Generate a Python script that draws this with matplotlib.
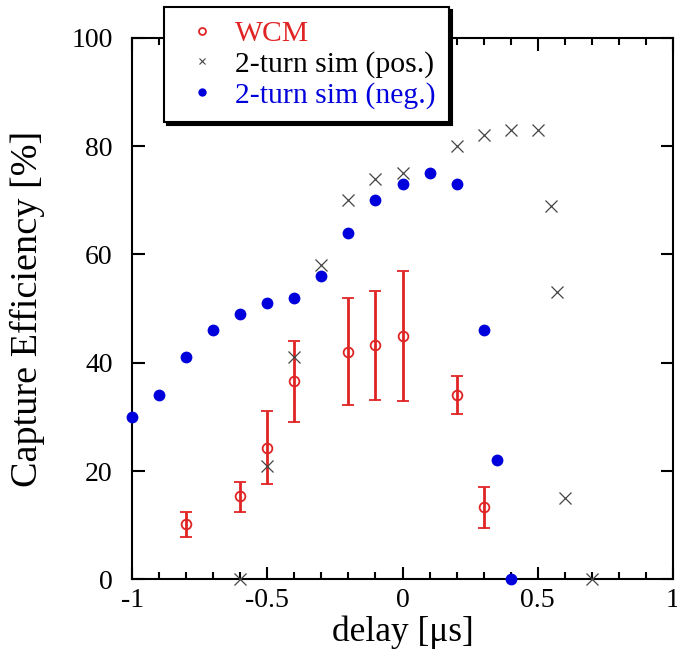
import matplotlib
matplotlib.use("Agg")
import matplotlib.pyplot as plt
from matplotlib.ticker import MultipleLocator

plt.rcParams['font.family'] = ['Liberation Serif', 'DejaVu Serif']

# WCM measurement with asymmetric error bars
wcm_delay = [-0.8, -0.6, -0.5, -0.4, -0.2, -0.1, 0.0, 0.2, 0.3]
wcm_eff = [10.2, 15.3, 24.2, 36.6, 42.0, 43.2, 45.0, 34.0, 13.3]
wcm_lo = [7.8, 12.4, 17.6, 29.0, 32.2, 33.2, 33.0, 30.5, 9.5]
wcm_hi = [12.5, 18.0, 31.0, 44.0, 52.0, 53.2, 57.0, 37.5, 17.0]

# 2-turn simulation, positive polarity
pos_delay = [-0.6, -0.5, -0.4, -0.3, -0.2, -0.1, 0.0, 0.2, 0.3, 0.4, 0.5, 0.55, 0.57, 0.6, 0.7]
pos_eff = [0, 21, 41, 58, 70, 74, 75, 80, 82, 83, 83, 69, 53, 15, 0]

# 2-turn simulation, negative polarity
neg_delay = [-1.0, -0.9, -0.8, -0.7, -0.6, -0.5, -0.4, -0.3, -0.2, -0.1, 0.0, 0.1, 0.2, 0.3, 0.35, 0.4]
neg_eff = [30, 34, 41, 46, 49, 51, 52, 56, 64, 70, 73, 75, 73, 46, 22, 0]

red = '#e02424'
blue = '#0000dc'
gray = '#444444'

fig = plt.figure(figsize=(6.77, 6.59), dpi=100)
ax = fig.add_axes([0.1954, 0.1209, 0.7983, 0.8217])

yerr = [[e - l for e, l in zip(wcm_eff, wcm_lo)], [h - e for e, h in zip(wcm_eff, wcm_hi)]]
ax.errorbar(wcm_delay, wcm_eff, yerr=yerr, fmt='o', mfc='none', mec=red, ecolor=red,
            ms=7, mew=1.3, elinewidth=2, capsize=4, capthick=2, zorder=3, clip_on=False)
ax.plot(pos_delay, pos_eff, 'x', color=gray, ms=8, mew=0.9, zorder=4, clip_on=False)
ax.plot(neg_delay, neg_eff, 'o', color=blue, ms=8.5, mew=0, zorder=5, clip_on=False)

ax.set_xlim(-1, 1)
ax.set_ylim(0, 100)
ax.xaxis.set_major_locator(MultipleLocator(0.5))
ax.xaxis.set_minor_locator(MultipleLocator(0.1))
ax.yaxis.set_major_locator(MultipleLocator(20))
ax.tick_params(which='both', direction='in', top=True, right=True, width=1.5)
ax.tick_params(which='major', length=9, labelsize=20)
ax.tick_params(axis='x', which='major', pad=6)
ax.tick_params(axis='y', which='major', pad=14)
ax.tick_params(which='minor', length=5)
for s in ax.spines.values():
    s.set_linewidth(1.5)

ax.xaxis.set_major_formatter(plt.FuncFormatter(lambda v, p: f'{v:g}'))
ax.yaxis.set_major_formatter(plt.FuncFormatter(lambda v, p: f'{v:g}'))

ax.set_xlabel('delay [μs]', fontsize=25.5, labelpad=2)
ax.set_ylabel('Capture Efficiency [%]', fontsize=27.5, labelpad=19)

# legend entries
h1 = plt.Line2D([], [], ls='none', marker='o', mfc='none', mec=red, ms=5, mew=1.3)
h2 = plt.Line2D([], [], ls='none', marker='x', color=gray, ms=5, mew=0.8)
h3 = plt.Line2D([], [], ls='none', marker='o', color=blue, ms=6, mew=0)
leg = fig.legend([h1, h2, h3], ['WCM', '2-turn sim (pos.)', '2-turn sim (neg.)'],
                 loc='upper left', bbox_to_anchor=(164 / 677, 1 - 7 / 659),
                 fontsize=21.3, frameon=True, fancybox=False, borderpad=0.45,
                 labelspacing=0.13, handlelength=1.7, handletextpad=0.25,
                 borderaxespad=0, shadow={'color': 'black', 'alpha': 1})
leg.get_frame().set_edgecolor('black')
leg.get_frame().set_linewidth(1.5)
for t, c in zip(leg.get_texts(), [red, 'black', blue]):
    t.set_color(c)

fig.savefig('out.png', dpi=100)
